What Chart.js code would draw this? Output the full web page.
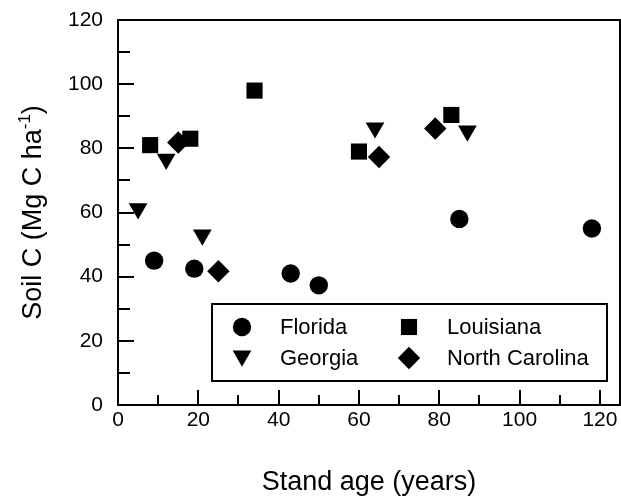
<!DOCTYPE html>
<html>
<head>
<meta charset="utf-8">
<script src="https://cdn.jsdelivr.net/npm/chart.js@4/dist/chart.umd.min.js"></script>
<style>
  html, body { margin: 0; padding: 0; background: #fff; }
  #wrap { width: 621px; height: 498px; }
</style>
</head>
<body>
<div id="wrap"><canvas id="c" width="621" height="498"></canvas></div>
<script>
// ---- data ----
const floridaAge   = [9, 19, 43, 50, 85, 118];
const floridaC     = [45, 42.5, 41, 37.3, 58, 55];
const georgiaAge   = [5, 12, 21, 64, 87];
const georgiaC     = [61.2, 76.6, 53, 86.4, 85.4];
const louisianaAge = [8, 18, 34, 60, 83];
const louisianaC   = [81, 83, 98, 79, 90.4];
const ncAge        = [15, 25, 65, 79];
const ncC          = [81.8, 41.7, 77.3, 86.2];

const seriesNames = ['Florida', 'Georgia', 'Louisiana', 'North Carolina'];
const xTickValues = [0, 20, 40, 60, 80, 100, 120];
const yTickValues = [0, 20, 40, 60, 80, 100, 120];
const xTitle = 'Stand age (years)';
const yTitleMain = 'Soil C (Mg C ha';
const yTitleSup = '-1';
const yTitleEnd = ')';

const FONT = '"Liberation Sans", Arial, Helvetica, sans-serif';

function pts(xs, ys) { return xs.map((x, i) => ({ x: x, y: ys[i] })); }

const styles = [
  { pointStyle: 'circle',   radius: 9.2,  rotation: 0 },
  { pointStyle: 'triangle', radius: 10.8, rotation: 180 },
  { pointStyle: 'rect',     radius: 11.4, rotation: 0 },
  { pointStyle: 'rectRot',  radius: 11.2, rotation: 0 }
];
const seriesData = [pts(floridaAge, floridaC), pts(georgiaAge, georgiaC), pts(louisianaAge, louisianaC), pts(ncAge, ncC)];

const datasets = seriesNames.map((name, i) => ({
  label: name,
  data: seriesData[i],
  pointStyle: styles[i].pointStyle,
  pointRadius: styles[i].radius,
  pointRotation: styles[i].rotation,
  pointBackgroundColor: '#000',
  pointBorderColor: '#000',
  pointBorderWidth: 0,
  showLine: false
}));

function drawMarker(ctx, style, x, y) {
  const opts = { pointStyle: style.pointStyle, radius: style.radius, rotation: style.rotation, borderWidth: 0 };
  ctx.save();
  ctx.fillStyle = '#000';
  ctx.strokeStyle = '#000';
  if (Chart.helpers && Chart.helpers.drawPoint) {
    Chart.helpers.drawPoint(ctx, opts, x, y);
  }
  ctx.restore();
}

function noPad(s) {
  s.paddingTop = 0; s.paddingBottom = 0; s.paddingLeft = 0; s.paddingRight = 0;
}

const decor = {
  id: 'decor',
  afterDraw(chart) {
    const ctx = chart.ctx;
    const a = chart.chartArea;
    const xs = chart.scales.x, ys = chart.scales.y;
    ctx.save();
    ctx.strokeStyle = '#000';
    ctx.lineWidth = 2;
    // frame
    ctx.strokeRect(a.left, a.top, a.right - a.left, a.bottom - a.top);
    // inward ticks
    ctx.beginPath();
    for (let v = 10; v < 125; v += 10) {
      const px = Math.round(xs.getPixelForValue(v));
      const len = (v % 20 === 0) ? 15 : 10;
      ctx.moveTo(px, a.bottom);
      ctx.lineTo(px, a.bottom - len);
    }
    for (let v = 10; v < 120; v += 10) {
      const py = Math.round(ys.getPixelForValue(v));
      const len = (v % 20 === 0) ? 16 : 12;
      ctx.moveTo(a.left, py);
      ctx.lineTo(a.left + len, py);
    }
    ctx.stroke();

    // x title
    ctx.fillStyle = '#000';
    ctx.font = '27px ' + FONT;
    ctx.textAlign = 'center';
    ctx.textBaseline = 'alphabetic';
    ctx.fillText(xTitle, (a.left + a.right) / 2, 490);

    // y title with superscript
    const cy = (a.top + a.bottom) / 2;
    ctx.translate(41, cy);
    ctx.rotate(-Math.PI / 2);
    ctx.font = '27px ' + FONT;
    const w1 = ctx.measureText(yTitleMain).width;
    const w3 = ctx.measureText(yTitleEnd).width;
    ctx.font = '17px ' + FONT;
    const w2 = ctx.measureText(yTitleSup).width;
    let x0 = -(w1 + w2 + w3) / 2;
    ctx.textAlign = 'left';
    ctx.font = '27px ' + FONT;
    ctx.fillText(yTitleMain, x0, 0);
    ctx.font = '17px ' + FONT;
    ctx.fillText(yTitleSup, x0 + w1, -11);
    ctx.font = '27px ' + FONT;
    ctx.fillText(yTitleEnd, x0 + w1 + w2, 0);
    ctx.restore();

    // legend (2 x 2 grid inside a box)
    ctx.save();
    ctx.strokeStyle = '#000';
    ctx.lineWidth = 2;
    ctx.strokeRect(212, 304, 395, 77);
    ctx.font = '22px ' + FONT;
    ctx.fillStyle = '#000';
    ctx.textAlign = 'left';
    ctx.textBaseline = 'middle';
    const order = [0, 2, 1, 3];
    const cols = [{ m: 242, t: 280 }, { m: 409, t: 447 }];
    const rows = [327, 358];
    order.forEach((di, k) => {
      const col = cols[k % 2], row = rows[Math.floor(k / 2)];
      const ds = chart.data.datasets[di];
      drawMarker(ctx, styles[di], col.m, row + (styles[di].pointStyle === 'triangle' ? -2 : 0));
      ctx.fillText(ds.label, col.t, row + 1);
    });
    ctx.restore();
  }
};

new Chart(document.getElementById('c'), {
  type: 'scatter',
  data: { datasets: datasets },
  options: {
    responsive: false,
    animation: false,
    devicePixelRatio: 1,
    layout: { autoPadding: false, padding: { top: 20, right: 1, left: 0, bottom: 0 } },
    plugins: { legend: { display: false }, tooltip: { enabled: false } },
    scales: {
      x: {
        type: 'linear', min: 0, max: 125,
        grid: { display: false, drawTicks: false },
        border: { display: false },
        afterBuildTicks: s => { s.ticks = xTickValues.map(v => ({ value: v })); },
        afterFit: s => { s.height = 93; noPad(s); },
        ticks: { color: '#000', font: { family: FONT, size: 21 }, padding: 3, maxRotation: 0, autoSkip: false }
      },
      y: {
        type: 'linear', min: 0, max: 120,
        grid: { display: false, drawTicks: false },
        border: { display: false },
        afterBuildTicks: s => { s.ticks = yTickValues.map(v => ({ value: v })); },
        afterFit: s => { s.width = 118; noPad(s); },
        ticks: { color: '#000', font: { family: FONT, size: 21 }, padding: 15, autoSkip: false }
      }
    }
  },
  plugins: [decor]
});
</script>
</body>
</html>
